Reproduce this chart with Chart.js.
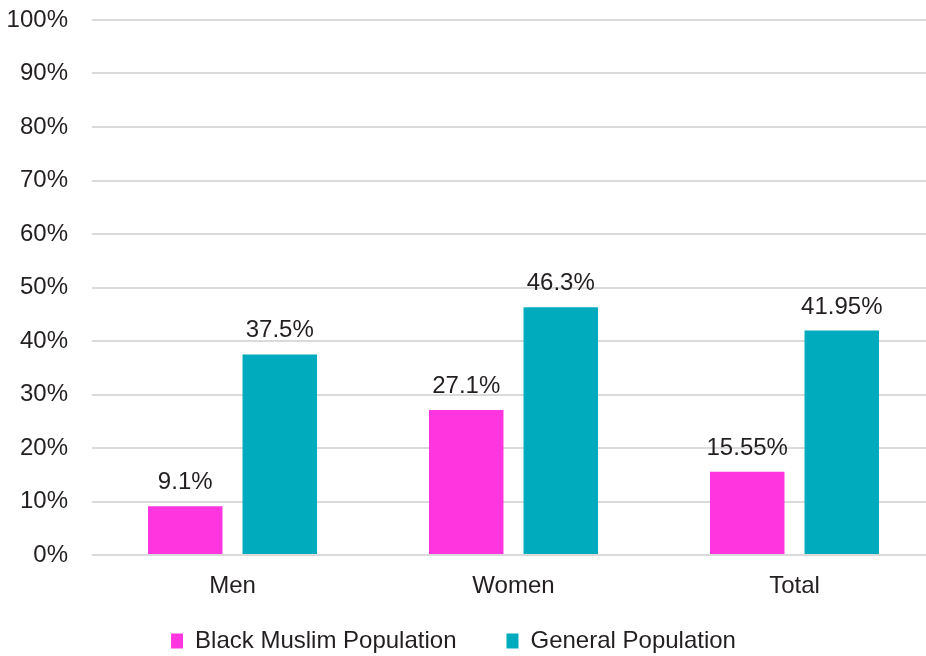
<!DOCTYPE html>
<html>
<head>
<meta charset="utf-8">
<script src="https://cdn.jsdelivr.net/npm/chart.js@4/dist/chart.umd.min.js"></script>
<style>
  html, body { margin: 0; padding: 0; background: #fff; overflow: hidden; }
  #wrap { position: relative; width: 935px; height: 656px; }
</style>
</head>
<body>
<div id="wrap"><canvas id="chart"></canvas></div>
<script>
const categories = ['Men', 'Women', 'Total'];
const seriesNames = ['Black Muslim Population', 'General Population'];
const blackMuslim = [9.1, 27.1, 15.55];
const generalPop = [37.5, 46.3, 41.95];
const yTicks = [0, 10, 20, 30, 40, 50, 60, 70, 80, 90, 100];

const FONT = '"Liberation Sans", Arial, sans-serif';
const TEXT = '#231f20';

// value labels over each bar
const barLabels = {
  id: 'barLabels',
  afterDatasetsDraw(chart) {
    const ctx = chart.ctx;
    ctx.save();
    ctx.font = '24px ' + FONT;
    ctx.fillStyle = TEXT;
    ctx.textAlign = 'center';
    ctx.textBaseline = 'alphabetic';
    chart.data.datasets.forEach((ds, i) => {
      chart.getDatasetMeta(i).data.forEach((bar, j) => {
        ctx.fillText(ds.data[j] + '%', bar.x, bar.y - 17);
      });
    });
    ctx.restore();
  }
};

// the legend keeps wide item spacing, so pull it up and a bit left
const legendShift = {
  id: 'legendShift',
  afterUpdate(chart) {
    const lg = chart.legend;
    lg.left -= 14;
    lg.right -= 14;
    lg.top -= 20;
    lg.bottom -= 20;
  }
};

new Chart(document.getElementById('chart'), {
  type: 'bar',
  data: {
    labels: categories,
    datasets: [
      { label: seriesNames[0], data: blackMuslim, backgroundColor: '#ff36e0' },
      { label: seriesNames[1], data: generalPop, backgroundColor: '#00abbd' }
    ]
  },
  options: {
    responsive: true,
    maintainAspectRatio: false,
    animation: false,
    categoryPercentage: 0.673,
    barPercentage: 0.788,
    layout: { padding: { top: 0, right: 0, bottom: -27, left: 0 } },
    plugins: {
      tooltip: { enabled: false },
      legend: {
        position: 'bottom',
        labels: {
          font: { family: FONT, size: 24 },
          color: TEXT,
          boxWidth: 12,
          boxHeight: 15,
          padding: 50
        }
      }
    },
    scales: {
      x: {
        afterFit(scale) { scale.height = 44; },
        grid: { display: false, drawTicks: false },
        border: { display: false },
        ticks: { font: { family: FONT, size: 24 }, color: TEXT, padding: 17 }
      },
      y: {
        min: 0,
        max: 100,
        afterBuildTicks(scale) { scale.ticks = yTicks.map(v => ({ value: v })); },
        afterFit(scale) {
          scale.width = 92;
          scale.paddingTop = 20;
          scale.paddingBottom = 0;
        },
        grid: { color: '#dadada', lineWidth: 2, drawTicks: false },
        border: { display: false },
        ticks: {
          font: { family: FONT, size: 24 },
          color: TEXT,
          padding: 24,
          callback: v => v + '%'
        }
      }
    }
  },
  plugins: [barLabels, legendShift]
});
</script>
</body>
</html>
